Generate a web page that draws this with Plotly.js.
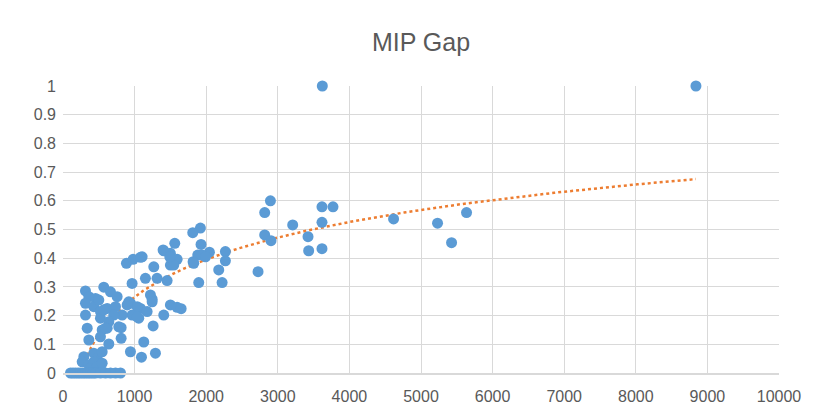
<!DOCTYPE html>
<html>
<head>
<meta charset="utf-8">
<script src="https://cdn.plot.ly/plotly-3.0.1.min.js"></script>
<style>
  html, body { margin: 0; padding: 0; background: #ffffff; }
  #frame { position: absolute; left: 7px; top: 0; width: 811px; height: 420px; border-left: 1px solid #D9D9D9; box-sizing: border-box; }
  #chart { position: absolute; left: 0; top: 0; width: 818px; height: 420px; }
</style>
</head>
<body>
<div id="frame"></div>
<div id="chart"></div>
<script>
// Data
const xValues = [
  3622, 8840, 2897, 2817, 2817, 2905, 2724, 3208, 3422, 3431,
  3617, 3771, 3617, 3617, 4617, 5231, 5427, 5636, 1919, 1812,
  1928, 1561, 1407, 1500, 1594, 1882, 2045, 2268, 2268, 1817,
  1500, 1105, 1268, 965, 1151, 1314, 1454, 1547, 1943, 2175,
  1896, 2222, 1221, 1245, 942, 1082, 1175, 1500, 1594, 1650,
  1058, 1407, 1259, 1128, 942, 1096, 1291, 886, 979, 1082,
  1398, 1491, 1826, 1990, 314, 570, 663, 756, 361, 454,
  314, 314, 430, 523, 617, 733, 919, 1036, 1245, 965,
  826, 709, 523, 640, 338, 547, 812, 361, 523, 640,
  812, 291, 430, 477, 268, 361, 430, 384, 477, 617,
  547, 547, 500, 570, 896, 779, 1036, 593,
  105, 140, 175, 210, 244, 280, 314, 350, 384, 420,
  454, 523, 593, 663, 733, 803
];
const yValues = [
  1.000, 1.000, 0.600, 0.559, 0.481, 0.461, 0.353, 0.516, 0.475, 0.426,
  0.579, 0.579, 0.525, 0.433, 0.537, 0.522, 0.454, 0.559, 0.505, 0.489,
  0.448, 0.452, 0.426, 0.417, 0.396, 0.411, 0.421, 0.423, 0.391, 0.388,
  0.376, 0.405, 0.370, 0.312, 0.330, 0.330, 0.322, 0.376, 0.411, 0.359,
  0.315, 0.315, 0.272, 0.257, 0.243, 0.225, 0.214, 0.237, 0.229, 0.224,
  0.191, 0.202, 0.164, 0.108, 0.074, 0.055, 0.069, 0.382, 0.396, 0.403,
  0.429, 0.405, 0.382, 0.405, 0.286, 0.299, 0.283, 0.266, 0.266, 0.260,
  0.243, 0.202, 0.231, 0.214, 0.225, 0.231, 0.248, 0.231, 0.248, 0.202,
  0.202, 0.202, 0.191, 0.179, 0.156, 0.150, 0.158, 0.115, 0.126, 0.101,
  0.121, 0.057, 0.069, 0.051, 0.039, 0.028, 0.039, 0.016, 0.022, 0.156,
  0.074, 0.034, 0.254, 0.220, 0.237, 0.161, 0.196, 0.156,
  0, 0, 0, 0, 0, 0, 0, 0, 0, 0,
  0, 0, 0, 0, 0, 0
];
const xTicks = [0, 1000, 2000, 3000, 4000, 5000, 6000, 7000, 8000, 9000, 10000];
const yTicks = [0, 0.1, 0.2, 0.3, 0.4, 0.5, 0.6, 0.7, 0.8, 0.9, 1];
const chartTitle = "MIP Gap";

// Logarithmic trendline (least squares of y on ln x), drawn from min x to max x
function logFit(xs, ys) {
  const n = xs.length;
  let sx = 0, sy = 0, sxx = 0, sxy = 0;
  for (let i = 0; i < n; i++) {
    const lx = Math.log(xs[i]);
    sx += lx; sy += ys[i]; sxx += lx * lx; sxy += lx * ys[i];
  }
  const a = (n * sxy - sx * sy) / (n * sxx - sx * sx);
  const b = (sy - a * sx) / n;
  return { a, b };
}
const fit = logFit(xValues, yValues);
const xMin = Math.min(...xValues), xMax = Math.max(...xValues);
const trendX = [], trendY = [];
const steps = 300;
for (let i = 0; i <= steps; i++) {
  const xv = xMin + (xMax - xMin) * i / steps;
  trendX.push(xv);
  trendY.push(fit.a * Math.log(xv) + fit.b);
}

const traces = [
  {
    x: trendX, y: trendY, type: 'scatter', mode: 'lines',
    line: { color: '#ED7D31', width: 2.5, dash: 'dot' },
    hoverinfo: 'skip', showlegend: false
  },
  {
    x: xValues, y: yValues, type: 'scatter', mode: 'markers',
    marker: { color: '#5B9BD5', size: 11, line: { width: 0 } },
    cliponaxis: false, showlegend: false
  }
];

const tickFont = { family: 'Liberation Sans, Arial, sans-serif', size: 16, color: '#595959' };

const layout = {
  width: 818, height: 420,
  margin: { l: 63, r: 39, t: 86, b: 47 },
  paper_bgcolor: '#ffffff', plot_bgcolor: '#ffffff',
  title: {
    text: chartTitle,
    font: { family: 'Liberation Sans, Arial, sans-serif', size: 25, color: '#595959' },
    x: 0.5, xref: 'paper', xanchor: 'center',
    y: 0.90, yref: 'container', yanchor: 'middle'
  },
  xaxis: {
    range: [0, 10000], tickvals: xTicks, ticktext: xTicks.map(String),
    showgrid: true, gridcolor: '#D9D9D9', gridwidth: 1,
    zeroline: false, showline: true, linecolor: '#D9D9D9', linewidth: 1.5,
    ticks: '', tickfont: tickFont, ticklabelstandoff: 8, automargin: false
  },
  yaxis: {
    range: [0, 1], tickvals: yTicks, ticktext: yTicks.map(String),
    showgrid: true, gridcolor: '#D9D9D9', gridwidth: 1,
    zeroline: false, showline: false,
    ticks: '', tickfont: tickFont, ticklabelstandoff: 6, automargin: false
  },
  showlegend: false
};

Plotly.newPlot('chart', traces, layout, { displayModeBar: false, staticPlot: true });
</script>
</body>
</html>
